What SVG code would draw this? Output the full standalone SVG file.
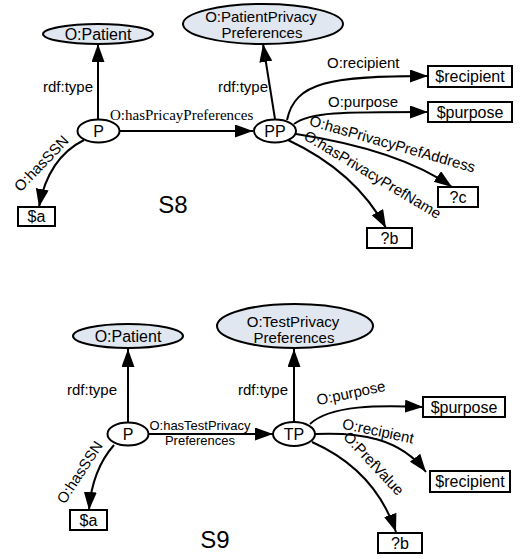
<svg xmlns="http://www.w3.org/2000/svg" width="521" height="559" viewBox="0 0 521 559">
<defs>
<style>
text{font-family:"Liberation Sans",Arial,sans-serif;fill:#000}
.cls{fill:#e1e7f0;stroke:#000;stroke-width:2}
.res{fill:#fff;stroke:#000;stroke-width:2}
.box{fill:#fff;stroke:#000;stroke-width:2}
.e{fill:none;stroke:#000;stroke-width:2;marker-end:url(#arr)}
.lbl{font-size:15px}
.nt{font-size:16px;text-anchor:middle}
.nt2{font-size:15px;text-anchor:middle}
.ttl{font-size:24px;text-anchor:middle}
</style>
<marker id="arr" markerUnits="userSpaceOnUse" markerWidth="20" markerHeight="14" refX="18" refY="6.5" orient="auto">
<path d="M0,0 L18,6.5 L0,13 z" fill="#000"/>
</marker>
</defs>

<g id="connectors">
<!-- S8 -->
<path class="e" d="M98 119 L98 44"/>
<path class="e" d="M120 131 L253 131"/>
<path class="e" d="M84 140 Q48 158 39 207"/>
<path class="e" d="M275 119 L263 44"/>
<path class="e" d="M287 120 C295 82 330 76 428 76"/>
<path class="e" d="M294 124 C310 112 340 112 428 112"/>
<path class="e" d="M296 134 Q400 150 452 187"/>
<path class="e" d="M288 140 C320 155 360 180 386 228"/>
<!-- S9 -->
<path class="e" d="M128 423 L128 349"/>
<path class="e" d="M149 434 L273 434"/>
<path class="e" d="M114 445 Q92 470 89 510"/>
<path class="e" d="M294 422 L294 349"/>
<path class="e" d="M310 424 C330 405 380 405 423 407"/>
<path class="e" d="M315 434 C360 432 400 438 426 472"/>
<path class="e" d="M312 442 Q375 470 396 532"/>
</g>

<g id="edge-labels">
<text class="lbl" x="93" y="92" text-anchor="end">rdf:type</text>
<text x="110" y="120" style="font-family:'Liberation Serif','Times New Roman',serif;font-size:15px">O:hasPricayPreferences</text>
<text class="lbl" text-anchor="middle" transform="translate(45 167) rotate(-46)">O:hasSSN</text>
<text class="lbl" x="268" y="92" text-anchor="end">rdf:type</text>
<text class="lbl" x="327" y="68">O:recipient</text>
<text class="lbl" x="328" y="107">O:purpose</text>
<text class="lbl" text-anchor="middle" transform="translate(391 149) rotate(16)">O:hasPrivacyPrefAddress</text>
<text class="lbl" text-anchor="middle" transform="translate(370 179) rotate(31)">O:hasPrivacyPrefName</text>

<text class="lbl" x="117" y="395" text-anchor="end">rdf:type</text>
<text x="200" y="430" text-anchor="middle" style="font-size:13px">O:hasTestPrivacy</text>
<text x="200" y="445" text-anchor="middle" style="font-size:13px">Preferences</text>
<text class="lbl" text-anchor="middle" transform="translate(84 475) rotate(-57)">O:hasSSN</text>
<text class="lbl" x="288" y="395" text-anchor="end">rdf:type</text>
<text class="lbl" text-anchor="middle" transform="translate(352 398) rotate(-12)">O:purpose</text>
<text class="lbl" text-anchor="middle" transform="translate(377 436) rotate(12)">O:recipient</text>
<text class="lbl" text-anchor="middle" transform="translate(370 467) rotate(47)">O:PrefValue</text>
</g>

<g id="S8-title"><text class="ttl" x="173" y="213">S8</text></g>
<g id="S9-title"><text class="ttl" x="215" y="548">S9</text></g>

<!-- S8 nodes -->
<g id="s8-patient-class"><ellipse class="cls" cx="98" cy="34" rx="55" ry="10"/><text class="nt" x="98" y="40">O:Patient</text></g>
<g id="s8-privacy-class"><ellipse class="cls" cx="263" cy="24" rx="80" ry="20"/><text class="nt2" x="261" y="22">O:PatientPrivacy</text><text class="nt2" x="262" y="38">Preferences</text></g>
<g id="s8-P"><ellipse class="res" cx="98.5" cy="131" rx="21" ry="11.5"/><text class="nt" x="98.5" y="137">P</text></g>
<g id="s8-PP"><ellipse class="res" cx="275" cy="131" rx="21" ry="11.5"/><text class="nt" x="275" y="137">PP</text></g>
<g id="s8-a"><rect class="box" x="18" y="207" width="37" height="19"/><text class="nt" x="36.5" y="222">$a</text></g>
<g id="s8-recipient"><rect class="box" x="428" y="66" width="84" height="21"/><text class="nt" x="470" y="82">$recipient</text></g>
<g id="s8-purpose"><rect class="box" x="428" y="102" width="84" height="20"/><text class="nt" x="470" y="118">$purpose</text></g>
<g id="s8-c"><rect class="box" x="438" y="187" width="40" height="20"/><text class="nt" x="458" y="203">?c</text></g>
<g id="s8-b"><rect class="box" x="367" y="228" width="45" height="20"/><text class="nt" x="389.5" y="244">?b</text></g>

<!-- S9 nodes -->
<g id="s9-patient-class"><ellipse class="cls" cx="128" cy="336" rx="55" ry="12"/><text class="nt" x="128" y="342">O:Patient</text></g>
<g id="s9-privacy-class"><ellipse class="cls" cx="295" cy="326" rx="78" ry="22"/><text class="nt2" x="293" y="327">O:TestPrivacy</text><text class="nt2" x="294" y="343">Preferences</text></g>
<g id="s9-P"><ellipse class="res" cx="128" cy="434" rx="20.5" ry="11.5"/><text class="nt" x="128" y="440">P</text></g>
<g id="s9-TP"><ellipse class="res" cx="294" cy="434" rx="21" ry="12"/><text class="nt" x="294" y="440">TP</text></g>
<g id="s9-a"><rect class="box" x="70" y="510" width="37" height="20"/><text class="nt" x="88.5" y="526">$a</text></g>
<g id="s9-purpose"><rect class="box" x="423" y="397" width="82" height="20"/><text class="nt" x="464" y="413">$purpose</text></g>
<g id="s9-recipient"><rect class="box" x="430" y="471" width="80" height="21"/><text class="nt" x="470" y="487">$recipient</text></g>
<g id="s9-b"><rect class="box" x="378" y="533" width="44" height="20"/><text class="nt" x="400" y="549">?b</text></g>
</svg>
